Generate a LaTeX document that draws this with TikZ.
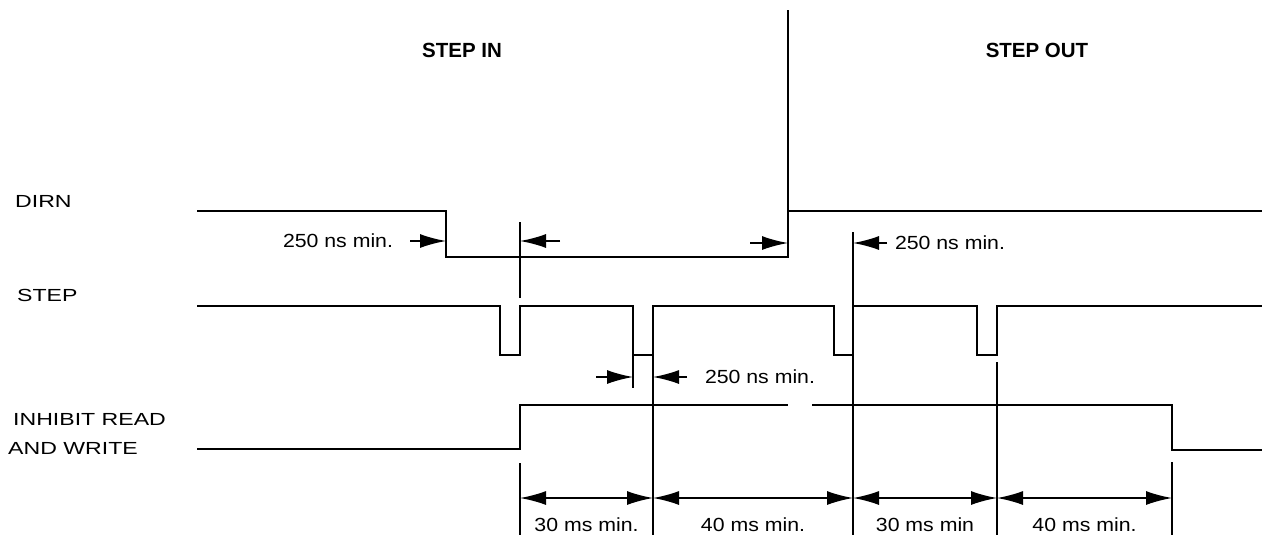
\documentclass[tikz,border=0pt]{standalone}
\usepackage{fontspec}
\setmainfont{Liberation Sans}
\newfontfamily\sigfont[FakeStretch=1.32]{Liberation Sans}
\newfontfamily\dimfont[FakeStretch=1.12]{Liberation Sans}
\usetikzlibrary{arrows.meta}

\begin{document}
\begin{tikzpicture}[
    x=1pt, y=-1pt,
    every node/.style={inner sep=0pt},
    signal/.style={line width=2.3pt, line join=miter},
    guide/.style={line width=1.6pt},
    dimarrow/.style={line width=1.6pt, -{Latex[length=26pt,width=14pt]}},
    dimboth/.style={line width=1.6pt, {Latex[length=26pt,width=14pt]}-{Latex[length=26pt,width=14pt]}},
    siglabel/.style={anchor=west, font=\sigfont\fontsize{17.5}{20}\selectfont},
    header/.style={font=\bfseries\fontsize{20.5}{24}\selectfont},
    dimlabel/.style={font=\dimfont\fontsize{19}{22}\selectfont}
]
\useasboundingbox (0,0) rectangle (1269,539);

% Headers and divider
\node[header] (stepin) at (462,50) {STEP IN};
\node[header] (stepout) at (1037,50) {STEP OUT};
\draw[guide] (788,10) -- (788,211);

% Signal names
\node[siglabel] (dirn) at (15,201) {DIRN};
\node[siglabel] (step) at (17,295) {STEP};
\node[siglabel] (inhibit) at (13,419) {INHIBIT READ};
\node[siglabel] (andwrite) at (8,448) {AND WRITE};

% Waveforms
\draw[signal] (197,211) -- (446,211) -- (446,257) -- (788,257) -- (788,211) -- (1262,211);
\draw[signal] (197,306) -- (500,306) -- (500,355) -- (520,355) -- (520,306)
    -- (633,306) -- (633,355) -- (653,355) -- (653,306)
    -- (834,306) -- (834,355) -- (853,355) -- (853,306)
    -- (977,306) -- (977,355) -- (997,355) -- (997,306) -- (1262,306);
\draw[signal] (197,449) -- (520,449) -- (520,405) -- (788,405);
\draw[signal] (812,405) -- (1172,405) -- (1172,450) -- (1262,450);

% Timing guides
\draw[guide] (520,222) -- (520,298);
\draw[guide] (853,232) -- (853,535);
\draw[guide] (633,355) -- (633,388);
\draw[guide] (653,355) -- (653,535);
\draw[guide] (520,463) -- (520,535);
\draw[guide] (997,362) -- (997,535);
\draw[guide] (1172,462) -- (1172,535);

% 250 ns set-up marks
\draw[dimarrow] (410,241) -- (446,241);
\node[dimlabel] (ns1) at (338,241) {250 ns min.};
\draw[dimarrow] (560,241) -- (520,241);
\draw[dimarrow] (750,243) -- (788,243);
\draw[dimarrow] (887,243) -- (853,243);
\node[dimlabel] (ns2) at (950,243) {250 ns min.};
\draw[dimarrow] (596,377) -- (633,377);
\draw[dimarrow] (687,377) -- (653,377);
\node[dimlabel] (ns3) at (760,377) {250 ns min.};

% Step timing
\foreach \n/\x in {a/520, b/653, c/853, d/997, e/1172}
    \coordinate (m\n) at (\x,498);
\draw[dimboth] (ma) -- (mb) node[dimlabel, midway, yshift=-27pt] {30 ms min.};
\draw[dimboth] (mb) -- (mc) node[dimlabel, midway, yshift=-27pt] {40 ms min.};
\draw[dimboth] (mc) -- (md) node[dimlabel, midway, yshift=-27pt] {30 ms min};
\draw[dimboth] (md) -- (me) node[dimlabel, midway, yshift=-27pt] {40 ms min.};

\end{tikzpicture}
\end{document}
